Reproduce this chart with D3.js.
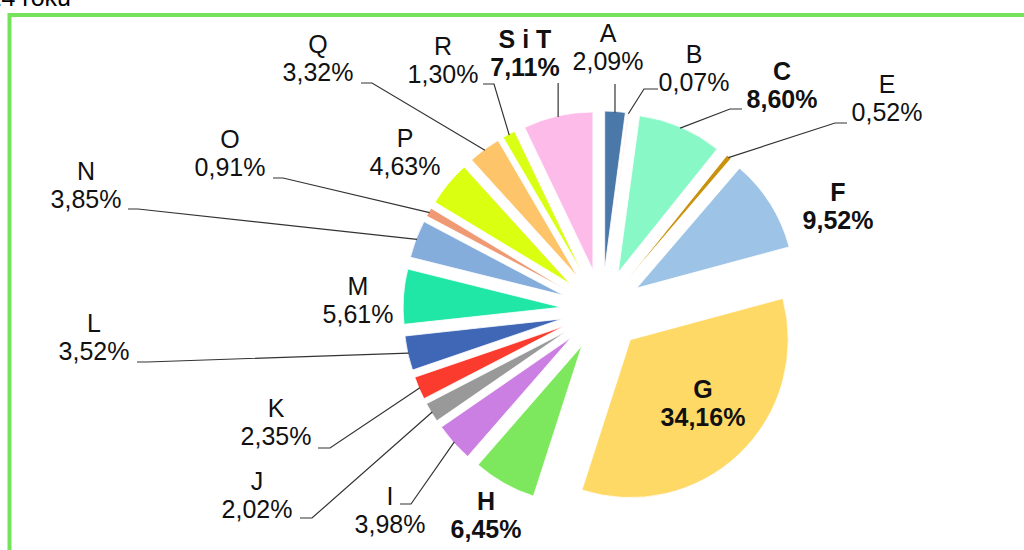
<!DOCTYPE html>
<html>
<head>
<meta charset="utf-8">
<script src="https://cdn.jsdelivr.net/npm/d3@7"></script>
<style>
  body { margin: 0; background: #fff; }
  svg { display: block; font-family: "Liberation Sans", Arial, sans-serif; }
</style>
</head>
<body>
<div id="chart"></div>
<script>
// udzialy sekcji (%)
const categories = ["A", "B", "C", "E", "F", "G", "H", "I", "J", "K", "L", "M", "N", "O", "P", "Q", "R", "S i T"];
const shares = [2.09, 0.07, 8.60, 0.52, 9.52, 34.16, 6.45, 3.98, 2.02, 2.35, 3.52, 5.61, 3.85, 0.91, 4.63, 3.32, 1.30, 7.11];
const sliceColors = ["#4a78a8", "#f0a070", "#88f8c6", "#c8920e", "#9dc3e6", "#ffd966", "#7de85e", "#cb7fe3", "#999999",
  "#fb3b2e", "#3f67b6", "#20e6a6", "#84addb", "#ef9a74", "#dbff10", "#fdc46a", "#d9ff14", "#fdbbea"];
const boldCats = ["C", "F", "G", "H", "S i T"];

const width = 1024, height = 550;
const cx = 602, cy = 310, radius = 158, explode = 41;

// manual label placement (name baseline), leader: [start, elbow] or "v" for vertical
const labelLayout = {
  "A": { x: 608, y: 42, leader: "v", from: 84 },
  "B": { x: 694, y: 63, leader: [[658, 89], [644, 89]] },
  "C": { x: 782, y: 80, leader: [[742, 109], [730, 109]] },
  "E": { x: 887, y: 93, leader: [[847, 123], [835, 123]] },
  "F": { x: 838, y: 201 },
  "G": { x: 703, y: 398 },
  "H": { x: 486, y: 510 },
  "I": { x: 390, y: 505, leader: [[400, 504], [411, 504]] },
  "J": { x: 257, y: 490, leader: [[300, 518], [312, 518]] },
  "K": { x: 276, y: 417, leader: [[318, 448], [330, 448]] },
  "L": { x: 94, y: 332, leader: [[137, 362], [147, 362]] },
  "M": { x: 358, y: 295 },
  "N": { x: 86, y: 180, leader: [[128, 209], [138, 209]] },
  "O": { x: 230, y: 148, leader: [[273, 178], [283, 178]] },
  "P": { x: 405, y: 147 },
  "Q": { x: 318, y: 53, leader: [[361, 83], [372, 83]] },
  "R": { x: 443, y: 55, leader: [[483, 84], [494, 84]] },
  "S i T": { x: 525, y: 48, leader: "v", from: 83 }
};

const data = categories.map((c, i) => ({ name: c, value: shares[i], color: sliceColors[i] }));
const fmt = v => v.toFixed(2).replace(".", ",") + "%";

const svg = d3.select("#chart").append("svg")
  .attr("width", width)
  .attr("height", height);

// title remainder (cut off at top)
svg.append("text")
  .attr("x", 71).attr("y", 6)
  .attr("text-anchor", "end")
  .style("font-size", "25px")
  .text("w 2014 roku");

// green frame
svg.append("rect")
  .attr("x", 9.5).attr("y", 15)
  .attr("width", width + 20).attr("height", height + 20)
  .attr("fill", "none")
  .attr("stroke", "#74e35a")
  .attr("stroke-width", 4);

const pie = d3.pie().sort(null).value(d => d.value);
const arcs = pie(data);
const arc = d3.arc().innerRadius(0).outerRadius(radius);

const mid = d => (d.startAngle + d.endAngle) / 2;
const offset = (d, r) => [Math.sin(mid(d)) * r, -Math.cos(mid(d)) * r];

const g = svg.append("g").attr("transform", `translate(${cx},${cy})`);

g.selectAll("path")
  .data(arcs)
  .join("path")
  .attr("transform", d => { const o = offset(d, explode); return `translate(${o[0]},${o[1]})`; })
  .attr("d", arc)
  .attr("fill", d => d.data.color)
  .attr("stroke", "#fff")
  .attr("stroke-width", 0.8);

// leader lines
const line = d3.line();
arcs.forEach(d => {
  const lay = labelLayout[d.data.name];
  if (!lay.leader) return;
  const o = offset(d, radius + explode - 1);
  const end = [cx + o[0], cy + o[1]];
  const pts = lay.leader === "v" ? [[end[0], lay.from], end] : [...lay.leader, end];
  svg.append("path")
    .attr("d", line(pts))
    .attr("fill", "none")
    .attr("stroke", "#333")
    .attr("stroke-width", 1.2);
});

// labels
const labels = svg.append("g")
  .attr("text-anchor", "middle")
  .style("font-size", "25px")
  .attr("fill", "#111");

arcs.forEach(d => {
  const lay = labelLayout[d.data.name];
  const bold = boldCats.includes(d.data.name);
  const t = labels.append("text")
    .attr("font-weight", bold ? "bold" : "normal");
  t.append("tspan").attr("x", lay.x).attr("y", lay.y).text(d.data.name);
  t.append("tspan").attr("x", lay.x).attr("y", lay.y + 28).text(fmt(d.data.value));
});
</script>
</body>
</html>
